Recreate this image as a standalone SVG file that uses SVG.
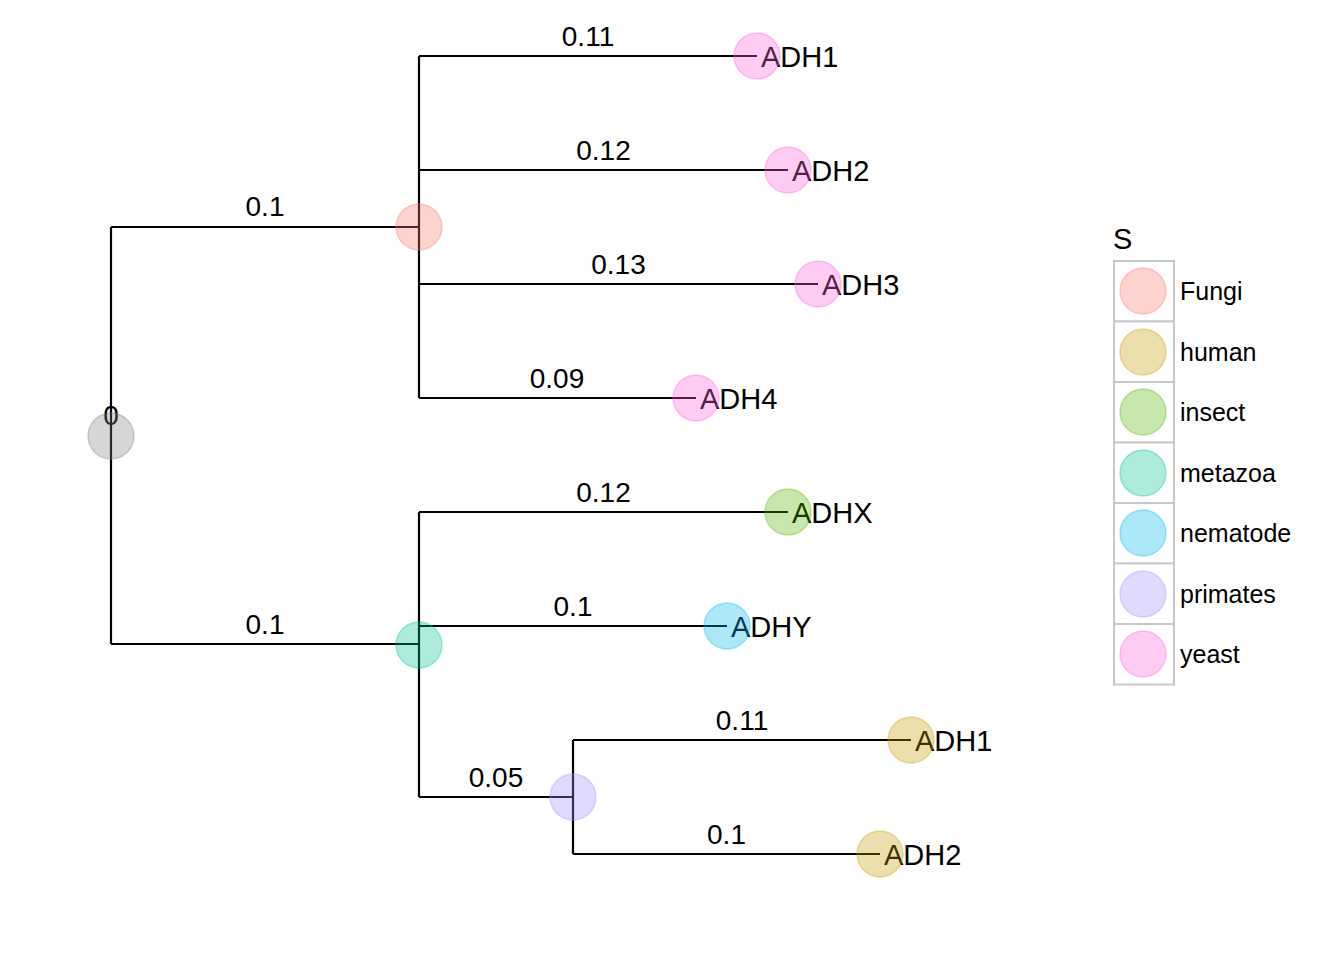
<svg xmlns="http://www.w3.org/2000/svg" width="1344" height="960" viewBox="0 0 1344 960">
<style>
.edge{stroke:#000;stroke-width:2.2;fill:none}
.el{font-family:"Liberation Sans",Arial,sans-serif;font-size:28px;text-anchor:middle;fill:#000}
.tl{font-family:"Liberation Sans",Arial,sans-serif;font-size:29px;fill:#000}
.lg{font-family:"Liberation Sans",Arial,sans-serif;font-size:25px;fill:#000}
.pt{stroke-width:1.5;fill-opacity:0.32;stroke-opacity:0.35}
.box{fill:#fff;stroke:#c8c8c8;stroke-width:2}
</style>
<rect width="1344" height="960" fill="#fff"/>
<g id="connectors">
<path class="edge" d="M111,227V644M111,227H419M111,644H419"/>
<path class="edge" d="M419,56V398M419,56H757M419,170H788M419,284H818M419,398H696"/>
<path class="edge" d="M419,512V797M419,512H788M419,626H727M419,797H573"/>
<path class="edge" d="M573,740V854M573,740H911M573,854H880"/>
</g>
<g id="edge-labels">
<text class="el" x="111" y="425">0</text>
<text class="el" x="265" y="216">0.1</text>
<text class="el" x="265" y="633.5">0.1</text>
<text class="el" x="588" y="45.5">0.11</text>
<text class="el" x="603.5" y="159.5">0.12</text>
<text class="el" x="618.5" y="273.5">0.13</text>
<text class="el" x="557" y="387.5">0.09</text>
<text class="el" x="603.5" y="501.5">0.12</text>
<text class="el" x="573" y="615.5">0.1</text>
<text class="el" x="496" y="786.5">0.05</text>
<text class="el" x="742" y="729.5">0.11</text>
<text class="el" x="726.5" y="843.5">0.1</text>
</g>
<g id="tip-labels">
<text class="tl" x="761" y="66.5">ADH1</text>
<text class="tl" x="792" y="180.5">ADH2</text>
<text class="tl" x="822" y="294.5">ADH3</text>
<text class="tl" x="700" y="408.5">ADH4</text>
<text class="tl" x="792" y="522.5">ADHX</text>
<text class="tl" x="731" y="636.5">ADHY</text>
<text class="tl" x="915" y="750.5">ADH1</text>
<text class="tl" x="884" y="864.5">ADH2</text>
</g>
<g id="root"><circle class="pt" cx="111" cy="436" r="23" fill="#7f7f7f" stroke="#7f7f7f"/></g>
<g id="node-fungi"><circle class="pt" cx="419" cy="227" r="23" fill="#F8766D" stroke="#F8766D"/></g>
<g id="node-metazoa"><circle class="pt" cx="419" cy="645" r="23" fill="#00C094" stroke="#00C094"/></g>
<g id="node-primates"><circle class="pt" cx="573" cy="797" r="23" fill="#A58AFF" stroke="#A58AFF"/></g>
<g id="tip-ADH1-yeast"><circle class="pt" cx="757" cy="56" r="23" fill="#FB61D7" stroke="#FB61D7"/></g>
<g id="tip-ADH2-yeast"><circle class="pt" cx="788" cy="170" r="23" fill="#FB61D7" stroke="#FB61D7"/></g>
<g id="tip-ADH3-yeast"><circle class="pt" cx="818" cy="284" r="23" fill="#FB61D7" stroke="#FB61D7"/></g>
<g id="tip-ADH4-yeast"><circle class="pt" cx="696" cy="398" r="23" fill="#FB61D7" stroke="#FB61D7"/></g>
<g id="tip-ADHX"><circle class="pt" cx="788" cy="512" r="23" fill="#53B400" stroke="#53B400"/></g>
<g id="tip-ADHY"><circle class="pt" cx="727" cy="626" r="23" fill="#00B6EB" stroke="#00B6EB"/></g>
<g id="tip-ADH1-human"><circle class="pt" cx="911" cy="740" r="23" fill="#C49A00" stroke="#C49A00"/></g>
<g id="tip-ADH2-human"><circle class="pt" cx="880" cy="854" r="23" fill="#C49A00" stroke="#C49A00"/></g>
<g id="legend">
<text class="tl" x="1113" y="249">S</text>
<rect class="box" x="1114" y="261" width="60" height="60.5"/>
<rect class="box" x="1114" y="321.5" width="60" height="60.5"/>
<rect class="box" x="1114" y="382" width="60" height="60.5"/>
<rect class="box" x="1114" y="442.5" width="60" height="60.5"/>
<rect class="box" x="1114" y="503" width="60" height="60.5"/>
<rect class="box" x="1114" y="563.5" width="60" height="60.5"/>
<rect class="box" x="1114" y="624" width="60" height="60.5"/>
<circle class="pt" cx="1143" cy="291" r="23" fill="#F8766D" stroke="#F8766D"/>
<circle class="pt" cx="1143" cy="352" r="23" fill="#C49A00" stroke="#C49A00"/>
<circle class="pt" cx="1143" cy="412" r="23" fill="#53B400" stroke="#53B400"/>
<circle class="pt" cx="1143" cy="473" r="23" fill="#00C094" stroke="#00C094"/>
<circle class="pt" cx="1143" cy="533" r="23" fill="#00B6EB" stroke="#00B6EB"/>
<circle class="pt" cx="1143" cy="594" r="23" fill="#A58AFF" stroke="#A58AFF"/>
<circle class="pt" cx="1143" cy="654" r="23" fill="#FB61D7" stroke="#FB61D7"/>
<text class="lg" x="1180" y="300">Fungi</text>
<text class="lg" x="1180" y="361">human</text>
<text class="lg" x="1180" y="421">insect</text>
<text class="lg" x="1180" y="482">metazoa</text>
<text class="lg" x="1180" y="542">nematode</text>
<text class="lg" x="1180" y="603">primates</text>
<text class="lg" x="1180" y="663">yeast</text>
</g>
</svg>
